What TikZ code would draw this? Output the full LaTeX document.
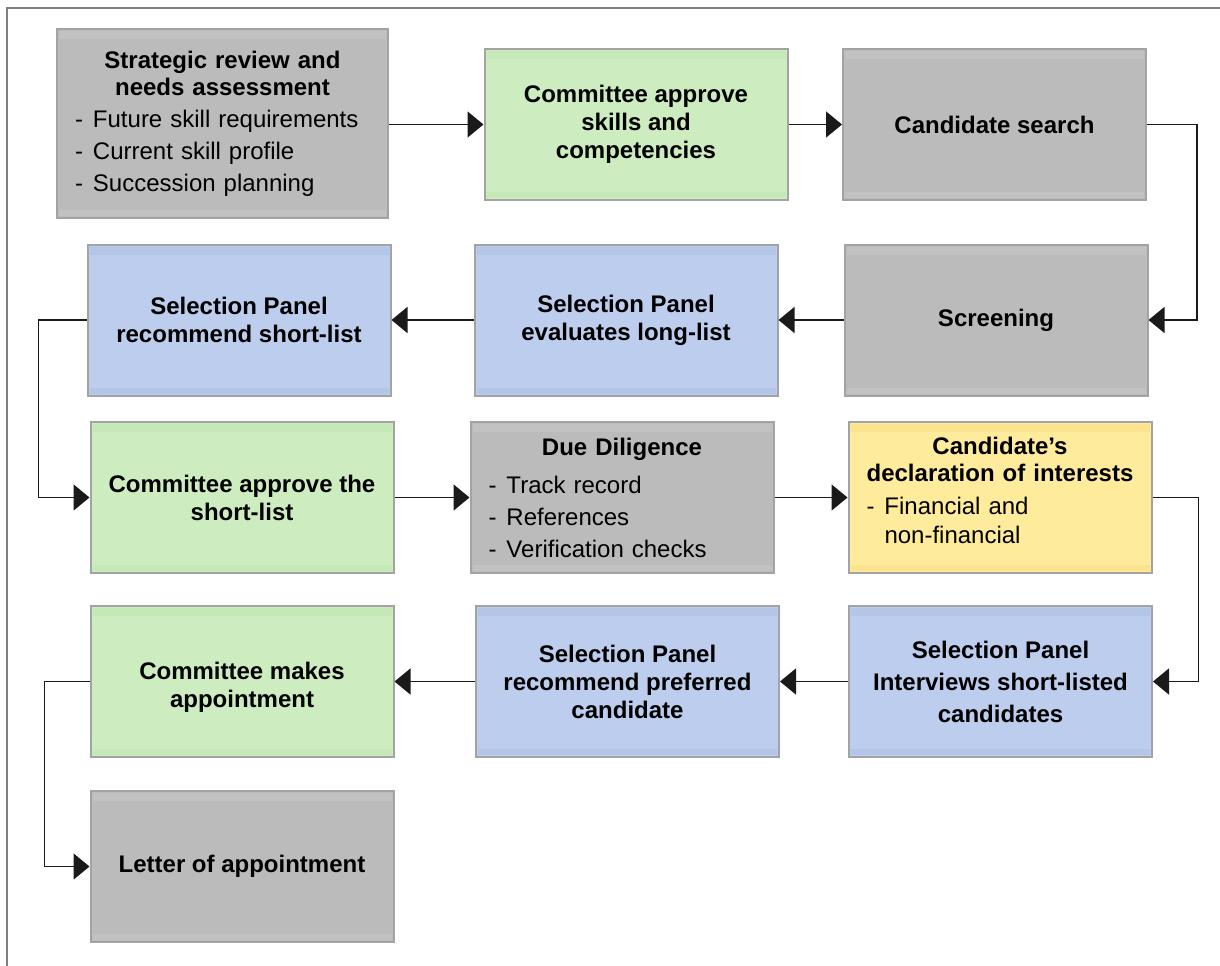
\documentclass[tikz,border=0pt]{standalone}
\usepackage{fontspec}
\setmainfont{Liberation Sans}
\usetikzlibrary{arrows.meta}

\definecolor{framecol}{HTML}{808080}
\definecolor{edgecol}{HTML}{A3A3A3}
\definecolor{linecol}{HTML}{1A1A1A}
\definecolor{greyfill}{HTML}{BBBBBB}
\definecolor{greyband}{HTML}{C2C2C2}
\definecolor{bluefill}{HTML}{BCCDEE}
\definecolor{blueband}{HTML}{B3C6E7}
\definecolor{greenfill}{HTML}{CDEDC1}
\definecolor{greenband}{HTML}{C5E8B7}
\definecolor{yellowfill}{HTML}{FFEB9C}
\definecolor{yellowband}{HTML}{FBE38F}

% one dash item of a list inside a box
\newcommand\dashitem[1]{\noindent\hspace*{4pt}\makebox[9pt][l]{-}#1\par}
\newcommand\dashcont[1]{\noindent\hspace*{13pt}#1\par}

\tikzset{
  stepbox/.style 2 args={
    draw=edgecol, line width=1pt, fill=#1,
    minimum width=151.5pt, minimum height=75.5pt, inner sep=0pt,
    align=center, font=\fontsize{12}{14}\selectfont\bfseries,
    path picture={
      \fill[#2] ([xshift=1pt,yshift=-1pt]path picture bounding box.north west)
        rectangle ([xshift=-1pt,yshift=-5pt]path picture bounding box.north east);
      \fill[#2] ([xshift=1pt,yshift=1pt]path picture bounding box.south west)
        rectangle ([xshift=-1pt,yshift=4pt]path picture bounding box.south east);
    }
  },
  greybox/.style={stepbox={greyfill}{greyband}},
  bluebox/.style={stepbox={bluefill}{blueband}},
  greenbox/.style={stepbox={greenfill}{greenband}},
  yellowbox/.style={stepbox={yellowfill}{yellowband}},
  listbox/.style={text width=#1, align=left, font=\fontsize{12}{16}\selectfont},
  flow/.style={draw=linecol, line width=0.8pt,
    -{Triangle[length=8pt,width=13pt]}}
}

\begin{document}
\begin{tikzpicture}[x=0.5pt,y=-0.5pt]
  \useasboundingbox (0,0) rectangle (1220,965);
  % page frame
  \draw[framecol, line width=1pt] (7,975) -- (7,8) -- (1230,8);

  % row 1
  \node[greybox, listbox=155.5pt, minimum width=165.5pt, minimum height=94.5pt] (review) at (222.5,123.5)
    {{\centering\bfseries Strategic review and\\[-2.5pt]needs assessment\par}
     \vspace{0pt}%
     \dashitem{Future skill requirements}
     \dashitem{Current skill profile}
     \dashitem{Succession planning}};
  \node[greenbox] (approveskills) at (636,124.5) {Committee approve\\skills and\\competencies};
  \node[greybox] (search) at (994.5,124.5) {Candidate search};

  % row 2
  \node[greybox] (screening) at (996,320) {Screening};
  \node[bluebox] (longlist) at (626,320) {Selection Panel\\evaluates long-list};
  \node[bluebox] (shortlist) at (239,320) {Selection Panel\\recommend short-list};

  % row 3
  \node[greenbox] (approveshort) at (242,497.5) {Committee approve the\\short-list};
  \node[greybox, listbox=141.5pt] (diligence) at (622,497.5)
    {{\centering\bfseries Due Diligence\par}
     \vspace{3pt}%
     \dashitem{Track record}
     \dashitem{References}
     \dashitem{Verification checks}};
  \node[yellowbox, listbox=141.5pt] (declaration) at (1000,497.5)
    {{\centering\bfseries Candidate’s\\[-2.5pt]declaration of interests\par}
     \vspace{2pt}%
     {\fontsize{12}{14.5}\selectfont
     \dashitem{Financial and}
     \dashcont{non-financial\rule[-7pt]{0pt}{7pt}}}};

  % row 4
  \node[bluebox, font=\fontsize{12}{16}\selectfont\bfseries] (interviews) at (1000.5,681.5)
    {Selection Panel\\Interviews short-listed\\candidates};
  \node[bluebox] (preferred) at (627.5,681.5) {Selection Panel\\recommend preferred\\candidate};
  \node[greenbox] (appointment) at (242,681.5) {\rule{0pt}{14pt}Committee makes\\appointment};

  % row 5
  \node[greybox] (letter) at (242,866.5) {Letter of appointment};

  % connectors
  \draw[flow] (review.east |- approveskills.west) -- (approveskills.west);
  \draw[flow] (approveskills) -- (search);
  \draw[flow] (search.east) -- ++(25pt,0) |- (screening.east);
  \draw[flow] (screening) -- (longlist);
  \draw[flow] (longlist) -- (shortlist);
  \draw[flow] (shortlist.west) -- ++(-24pt,0) |- (approveshort.west);
  \draw[flow] (approveshort) -- (diligence);
  \draw[flow] (diligence) -- (declaration);
  \draw[flow] (declaration.east) -- ++(23pt,0) |- (interviews.east);
  \draw[flow] (interviews) -- (preferred);
  \draw[flow] (preferred) -- (appointment);
  \draw[flow] (appointment.west) -- ++(-22.5pt,0) |- (letter.west);
\end{tikzpicture}
\end{document}
